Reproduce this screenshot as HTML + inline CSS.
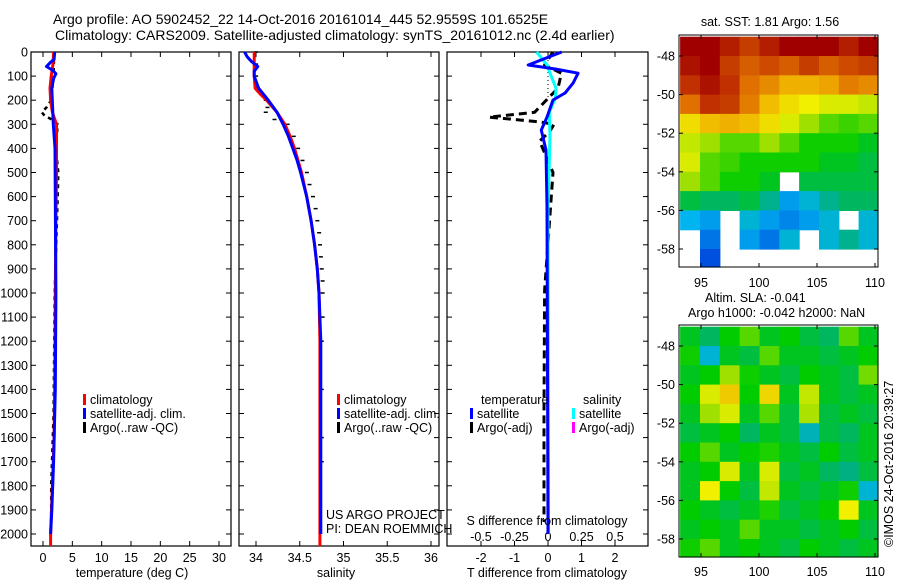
<!DOCTYPE html>
<html><head><meta charset="utf-8">
<style>
html,body{margin:0;padding:0;background:#fff;}
svg{display:block;font-family:"Liberation Sans",sans-serif;}
</style></head>
<body>
<svg id="fig" width="900" height="580" viewBox="0 0 900 580" xmlns="http://www.w3.org/2000/svg">
<text x="53" y="24" font-size="14">Argo profile: AO 5902452_22 14-Oct-2016 20161014_445 52.9559S 101.6525E</text>
<text x="55" y="40" font-size="14">Climatology: CARS2009. Satellite-adjusted climatology: synTS_20161012.nc (2.4d earlier)</text>
<g id="g"></g>
</svg>
<script>
// ---------- data ----------
const tClimDepth=[0,50,100,150,200,250,300,400,500,700,1000,1400,1600,1800,2000,2050];
const tClimVal=[1.8,1.7,1.4,1.2,1.3,1.6,2.3,2.3,2.3,2.2,2.1,2.0,1.9,1.6,1.3,1.3];
const tSatDepth=[0,30,45,60,75,90,110,150,300,400,1000,1400,1700,1900,2000];
const tSatVal=[2.0,1.9,1.2,0.6,1.6,2.2,1.8,1.5,1.75,2.05,2.2,2.1,1.8,1.5,1.3];
const tArgoDepth=[0,100,200,230,250,265,280,300,400,500,600,1000,1500,1800,1950];
const tArgoVal=[1.9,1.8,1.4,0.6,-0.2,0.3,1.5,2.5,2.2,2.6,2.5,2.0,1.8,1.4,1.4];
const sClimDepth=[0,100,150,175,200,250,300,350,400,450,500,600,700,800,900,1000,1200,2050];
const sClimVal=[33.98,33.98,33.99,34.05,34.12,34.24,34.33,34.39,34.44,34.48,34.52,34.58,34.63,34.67,34.7,34.72,34.73,34.73];
const sSatDepth=[0,20,40,60,80,100,150,200,250,300,350,400,450,500,600,700,800,900,1000,1200,2000];
const sSatVal=[33.87,33.9,33.95,34.02,33.98,33.98,34.03,34.14,34.24,34.31,34.37,34.42,34.47,34.51,34.58,34.63,34.67,34.7,34.72,34.74,34.74];
const sArgoDepth=[0,50,100,150,200,230,250,280,300,350,400,450,500,550,600,650,700,750,800,850,900,950,1000,1100,1200,1400,1600,1700];
const sArgoVal=[33.99,33.99,33.99,34.0,34.1,34.12,34.1,34.2,34.35,34.42,34.47,34.52,34.57,34.6,34.64,34.67,34.69,34.71,34.72,34.73,34.74,34.75,34.75,34.75,34.74,34.74,34.74,34.74];
const dTSatDepth=[0,54,71,88,129,170,199,270,324,407,643,2000];
const dTSatVal=[0.41,-0.59,0.24,0.9,0.75,0.51,0.15,-0.03,-0.2,-0.06,-0.03,0];
const dSSatDepth=[0,54,88,150,190,250,350,650,2000];
const dSSatVal=[-0.085,-0.007,0.015,0.06,0.055,0.01,0.015,0.0,0.004];
const dTArgoDepth=[0,54,88,150,200,250,270,290,300,330,370,500,990,1500,1950];
const dTArgoVal=[0.15,-0.1,0.4,0.3,-0.05,-0.4,-1.76,-0.25,0.18,0.05,-0.25,0.15,-0.1,-0.12,-0.12];
const depthTicks=[0,100,200,300,400,500,600,700,800,900,1000,1100,1200,1300,1400,1500,1600,1700,1800,1900,2000];
const tTicks=[0,5,10,15,20,25,30];
const sTicks=[34,34.5,35,35.5,36];
const sTickLabels=["34","34.5","35","35.5","36"];
const dTTicks=[-2,-1,0,1,2];
const dSTicks=[-0.5,-0.25,0,0.25,0.5];
const dSTickLabels=["-0.5","-0.25","0","0.25","0.5"];
const latTicks=[-48,-50,-52,-54,-56,-58];
const lonTicks=[95,100,105,110];
const sstGrid=[
[1,1,0.95,0.9,0.95,1,1,1,0.95,1],
[0.97,1,0.9,0.85,0.88,0.85,0.9,0.85,0.88,0.9],
[0.92,0.97,0.92,0.82,0.78,0.72,0.72,0.74,0.8,0.78],
[0.82,0.92,0.9,0.8,0.7,0.65,0.62,0.6,0.6,0.58],
[0.65,0.7,0.72,0.7,0.65,0.6,0.55,0.5,0.48,0.5],
[0.58,0.55,0.5,0.5,0.55,0.5,0.45,0.45,0.45,0.42],
[0.6,0.5,0.48,0.45,0.45,0.45,0.45,0.42,0.42,0.4],
[0.55,0.5,0.45,0.45,0.42,null,0.4,0.4,0.4,0.4],
[0.4,0.38,0.38,0.4,0.35,0.25,0.3,0.35,0.38,0.38],
[0.28,0.25,null,0.3,0.25,0.22,0.25,0.3,null,0.3],
[null,0.2,null,0.25,0.2,0.3,null,0.3,0.35,0.3],
[null,0.15,null,null,null,null,null,null,null,null]];
const slaGrid=[
[0.42,0.38,0.44,0.5,0.42,0.44,0.4,0.38,0.5,0.42],
[0.45,0.3,0.42,0.4,0.5,0.42,0.42,0.4,0.42,0.44],
[0.42,0.44,0.55,0.45,0.42,0.4,0.44,0.42,0.4,0.52],
[0.44,0.6,0.68,0.44,0.66,0.42,0.58,0.42,0.4,0.42],
[0.42,0.55,0.6,0.42,0.5,0.4,0.56,0.4,0.42,0.4],
[0.4,0.42,0.44,0.38,0.42,0.4,0.32,0.4,0.38,0.42],
[0.44,0.5,0.42,0.44,0.46,0.42,0.4,0.44,0.4,0.42],
[0.42,0.44,0.6,0.42,0.6,0.4,0.42,0.38,0.36,0.4],
[0.42,0.62,0.44,0.4,0.58,0.42,0.4,0.42,0.45,0.3],
[0.44,0.42,0.4,0.42,0.46,0.4,0.42,0.44,0.62,0.42],
[0.42,0.44,0.42,0.5,0.42,0.42,0.4,0.42,0.44,0.4],
[0.45,0.5,0.42,0.44,0.42,0.4,0.44,0.42,0.4,0.42]];

// ---------- helpers ----------
const NS="http://www.w3.org/2000/svg";
const G=document.getElementById('g');
function mk(tag,attrs,parent){const e=document.createElementNS(NS,tag);for(const k in attrs)e.setAttribute(k,attrs[k]);(parent||G).appendChild(e);return e;}
function txt(x,y,s,anchor,size){const t=mk('text',{x:x,y:y,'font-size':size||12,'text-anchor':anchor||'start'});t.textContent=s;return t;}
const TOP=52,BOT=546;
const yD=d=>TOP+d*0.241;
function lin(v0,p0,v1,p1){return v=>p0+(v-v0)*(p1-p0)/(v1-v0);}
const xT=lin(0,43,30,219);
const xS=lin(34,256,36,431);
const xDT=lin(0,548,1,581.5);
const xDS=lin(0,548,0.25,581.5);

function line(depths,vals,xf,color,w,dash,name){
  const p=depths.map((d,i)=>xf(vals[i]).toFixed(1)+','+yD(d).toFixed(1)).join(' ');
  const e=mk('polyline',{points:p,fill:'none',stroke:color,'stroke-width':w,'stroke-linejoin':'round'});
  if(dash)e.setAttribute('stroke-dasharray',dash);
  
  
}
function ticksMarks(depths,vals,xf,name){
  const g=mk('g',{});
  
  
  depths.forEach((d,i)=>{const x=xf(vals[i]),y=yD(d);
    const m=mk('line',{x1:x-1,y1:y,x2:x+3,y2:y,stroke:'#000','stroke-width':1.5},g);
    
    });
}
function frame(x0,x1,name){
  const r=mk('rect',{x:x0,y:TOP,width:x1-x0,height:BOT-TOP,fill:'none',stroke:'#000','stroke-width':1.2});
  
  
}
function depthAxis(x0,x1,labels){
  depthTicks.forEach(d=>{
    const y=yD(d);
    mk('line',{x1:x0,y1:y,x2:x0+5,y2:y,stroke:'#000'});
    mk('line',{x1:x1,y1:y,x2:x1-5,y2:y,stroke:'#000'});
    if(labels){const t=txt(x0-3,y+4.5,String(d),'end',12.5);
      
      }
  });
}
function xTicks(vals,labels,xf,y,top){
  vals.forEach((v,i)=>{
    const x=xf(v);
    mk('line',{x1:x,y1:BOT,x2:x,y2:BOT-5,stroke:'#000'});
    if(top)mk('line',{x1:x,y1:TOP,x2:x,y2:TOP+5,stroke:'#000'});
    const t=txt(x,y,labels[i],'middle',12.5);
    
    
  });
}
function legend(x,y,color,label){
  mk('rect',{x:x,y:y-10,width:3,height:11,fill:color});
  const t=txt(x+7,y,label,'start',12.5);
  
  
}

// ---------- Panel 1 ----------
frame(31,231,'temperature-panel');
depthAxis(31,231,true);
xTicks(tTicks,tTicks.map(String),xT,562,true);
line(tArgoDepth,tArgoVal,xT,'#000',2.5,'4,4','temperature-argo-line');
line(tClimDepth,tClimVal,xT,'#f00',3,null,'temperature-climatology-line');
line(tSatDepth,tSatVal,xT,'#0000ff',3,null,'temperature-satellite-line');
{const t=txt(132,577,'temperature (deg C)','middle',12.5);}
legend(83,404,'#f00','climatology');legend(83,418,'#0000ff','satellite-adj. clim.');legend(83,432,'#000','Argo(..raw -QC)');

// ---------- Panel 2 ----------
frame(239,439,'salinity-panel');
depthAxis(239,439,false);
xTicks(sTicks,sTickLabels,xS,562,true);
ticksMarks(sArgoDepth,sArgoVal,xS,'salinity-argo-marks');
line(sClimDepth,sClimVal,xS,'#f00',3,null,'salinity-climatology-line');
line(sSatDepth,sSatVal,xS,'#0000ff',3,null,'salinity-satellite-line');
{const t=txt(336,577,'salinity','middle',12.5);}
legend(337,404,'#f00','climatology');legend(337,418,'#0000ff','satellite-adj. clim.');legend(337,432,'#000','Argo(..raw -QC)');
{const t=txt(326,519,'US ARGO PROJECT','start',12.5);}
{const t=txt(326,533,'PI: DEAN ROEMMICH','start',12.5);}

// ---------- Panel 3 ----------
frame(447,648,'difference-panel');
depthAxis(447,648,false);
dSTicks.forEach((v,i)=>{const t=txt(xDS(v),541,dSTickLabels[i],'middle',12.5);});
xTicks(dTTicks,dTTicks.map(String),xDT,562,true);
mk('line',{x1:548,y1:TOP,x2:548,y2:100,stroke:'#000','stroke-dasharray':'1,3'});
line(dTArgoDepth,dTArgoVal,xDT,'#000',3,'8,5','t-diff-argo-line');
line(dSSatDepth,dSSatVal,xDS,'#00ffff',3,null,'s-diff-satellite-line');
line(dTSatDepth,dTSatVal,xDT,'#0000ff',3,null,'t-diff-satellite-line');
{const t=txt(547,525,'S difference from climatology','middle',12.5);}
{const t=txt(547,577,'T difference from climatology','middle',12.5);}
{const t=txt(481,404,'temperature','start',12.5);}
{const t=txt(583,404,'salinity','start',12.5);}
legend(470,418,'#0000ff','satellite');legend(470,432,'#000','Argo(-adj)');
legend(572,418,'#00ffff','satellite');legend(572,432,'#ff00ff','Argo(-adj)');

// ---------- maps ----------
const stops=[[0,[0,0,143]],[0.15,[0,80,224]],[0.28,[0,180,240]],[0.36,[0,176,128]],[0.44,[0,204,0]],[0.55,[160,224,0]],[0.62,[240,240,0]],[0.72,[240,176,0]],[0.82,[224,112,0]],[0.92,[192,48,0]],[1,[160,0,0]]];
function cmap(v){for(let i=1;i<stops.length;i++){if(v<=stops[i][0]){const a=stops[i-1],b=stops[i],f=(v-a[0])/(b[0]-a[0]);const c=a[1].map((x,k)=>Math.round(x+f*(b[1][k]-x)));return 'rgb('+c.join(',')+')';}}return 'rgb(160,0,0)';}
function map(x0,y0,x1,y1,grid,latA,yA,latB,yB,name,xlabY){
  const xL=lin(95,701,110,875);
  const yL=lin(latA,yA,latB,yB);
  const g=mk('g',{});
  
  
  const rows=grid.length,cols=grid[0].length;
  const lon0=93.2,lon1=110.3,lat0=-47,lat1=-59;
  grid.forEach((row,r)=>row.forEach((v,c)=>{
    if(v===null)return;
    const xa=Math.max(x0,xL(lon0+(lon1-lon0)*c/cols)),xb=Math.min(x1,xL(lon0+(lon1-lon0)*(c+1)/cols));
    const ya=Math.max(y0,yL(lat0+(lat1-lat0)*r/rows)),yb=Math.min(y1,yL(lat0+(lat1-lat0)*(r+1)/rows));
    const cell=mk('rect',{x:xa.toFixed(1),y:ya.toFixed(1),width:(xb-xa+0.6).toFixed(1),height:(yb-ya+0.6).toFixed(1),fill:cmap(v)},g);
    
    
  }));
  mk('rect',{x:x0,y:y0,width:x1-x0,height:y1-y0,fill:'none',stroke:'#000','stroke-width':1});
  latTicks.forEach(l=>{const y=yL(l);mk('line',{x1:x0,y1:y,x2:x0+4,y2:y,stroke:'#000'});mk('line',{x1:x1,y1:y,x2:x1-4,y2:y,stroke:'#000'});
    const t=txt(x0-4,y+4.5,String(l),'end',12.5);});
  lonTicks.forEach(l=>{const x=xL(l);mk('line',{x1:x,y1:y1,x2:x,y2:y1-4,stroke:'#000'});mk('line',{x1:x,y1:y0,x2:x,y2:y0+4,stroke:'#000'});
    const t=txt(x,xlabY,String(l),'middle',12.5);});
}
map(679,35,878,267,sstGrid,-48,56,-58,249,'sst-map',287);
map(679,325,878,557,slaGrid,-48,346,-58,539,'sla-map',576);
{const t=txt(770,26,'sat. SST: 1.81 Argo: 1.56','middle',12.5);}
{const t=txt(705,302,'Altim. SLA: -0.041','start',12.5);}
{const t=txt(688,317,'Argo h1000: -0.042 h2000: NaN','start',12.5);}
{const t=txt(0,0,'©IMOS 24-Oct-2016 20:39:27','start',12.5);t.setAttribute('transform','translate(893,547) rotate(-90)');}
</script>
</body></html>
